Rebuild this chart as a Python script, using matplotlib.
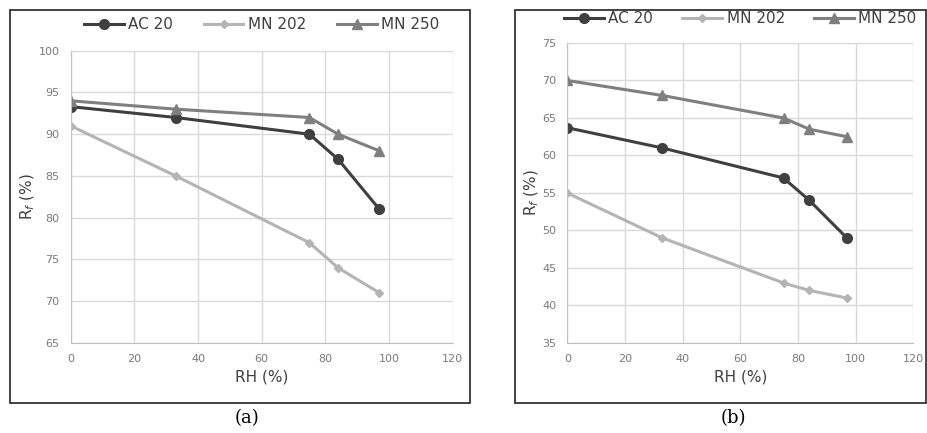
import matplotlib.pyplot as plt
from matplotlib.patches import Rectangle

# relative humidity values (%)
rh = [0, 33, 75, 84, 97]

# panel (a)
a_ac20 = [93.3, 92, 90, 87, 81]
a_mn202 = [91, 85, 77, 74, 71]
a_mn250 = [94, 93, 92, 90, 88]

# panel (b)
b_ac20 = [63.7, 61, 57, 54, 49]
b_mn202 = [55, 49, 43, 42, 41]
b_mn250 = [70, 68, 65, 63.5, 62.5]

labels = ['AC 20', 'MN 202', 'MN 250']
styles = [('#3f3f3f', 'o', 7), ('#b4b4b4', 'D', 4), ('#7f7f7f', '^', 7)]

fig = plt.figure(figsize=(9.28, 4.33), dpi=100)


def panel(rect, frame, series, ylim, caption, cap_x, legend_anchor, colsp):
    fig.patches.append(Rectangle((frame[0], frame[1]), frame[2], frame[3],
                                 transform=fig.transFigure, fill=False,
                                 edgecolor='#222222', linewidth=1.2))
    ax = fig.add_axes(rect)
    for ys, lab, (c, m, ms) in zip(series, labels, styles):
        ax.plot(rh, ys, color=c, marker=m, markersize=ms, linewidth=2.2,
                label=lab)
    ax.set_xlim(0, 120)
    ax.set_ylim(*ylim)
    ax.set_xticks(range(0, 121, 20))
    ax.set_yticks(range(ylim[0], ylim[1] + 1, 5))
    ax.grid(True, color='#d9d9d9', linewidth=1)
    ax.set_axisbelow(True)
    for s in ['top', 'right']:
        ax.spines[s].set_visible(False)
    for s in ['left', 'bottom']:
        ax.spines[s].set_color('#bfbfbf')
    ax.tick_params(length=0, labelsize=8, colors='#7a7a7a', pad=8)
    ax.set_xlabel('RH (%)', fontsize=11, color='#404040', labelpad=4)
    ax.set_ylabel('R$_f$ (%)', fontsize=11, color='#404040', labelpad=1)
    ax.legend(loc='center', bbox_to_anchor=legend_anchor, ncol=3,
              frameon=False, fontsize=11, labelcolor='#404040',
              handlelength=2.6, columnspacing=colsp, handletextpad=0.3,
              borderaxespad=0)
    fig.text(cap_x, 0.035, caption, ha='center', va='center',
             fontsize=13, family='DejaVu Serif')
    return ax


panel([0.0762, 0.2079, 0.4116, 0.675], [0.0108, 0.0693, 0.4957, 0.9077],
      [a_ac20, a_mn202, a_mn250], (65, 100), '(a)', 0.266, (0.5, 1.09), 2.0)
panel([0.6113, 0.2079, 0.3728, 0.6928], [0.555, 0.0693, 0.443, 0.9077],
      [b_ac20, b_mn202, b_mn250], (35, 75), '(b)', 0.79, (0.5, 1.08), 1.9)

fig.savefig('out.png', dpi=100)
